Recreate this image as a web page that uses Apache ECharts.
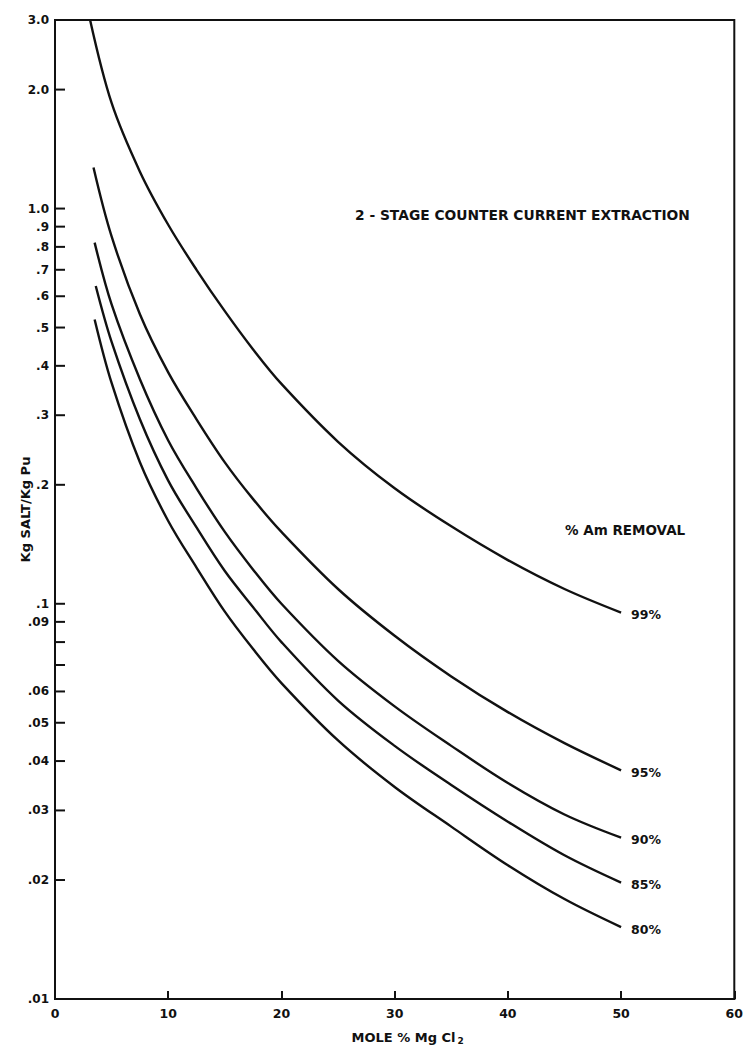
<!DOCTYPE html>
<html>
<head>
<meta charset="utf-8">
<script src="https://cdn.jsdelivr.net/npm/echarts@6/dist/echarts.min.js"></script>
<style>
  html, body { margin: 0; padding: 0; background: #ffffff; }
  #chart { width: 746px; height: 1050px; }
</style>
</head>
<body>
<div id="chart"></div>
<script>
// Kg salt per Kg Pu needed vs. mole % MgCl2, one curve per % Am removal
const seriesNames = ['99%', '95%', '90%', '85%', '80%'];
const curveStartX = [3.1, 3.4, 3.5, 3.6, 3.5];
const curveStartY = [3.0, 1.27, 0.82, 0.637, 0.524];
const moleGrid = [5, 7.5, 10, 12.5, 15, 17.5, 20, 25, 30, 35, 40, 45, 50];
const removal99 = [1.85, 1.24, 0.91, 0.70, 0.55, 0.44, 0.36, 0.257, 0.196, 0.157, 0.129, 0.109, 0.095];
const removal95 = [0.85, 0.54, 0.385, 0.293, 0.228, 0.184, 0.152, 0.109, 0.083, 0.0655, 0.0532, 0.0444, 0.0379];
const removal90 = [0.572, 0.37, 0.259, 0.196, 0.152, 0.122, 0.100, 0.0717, 0.055, 0.0437, 0.0352, 0.0293, 0.0256];
const removal85 = [0.46, 0.293, 0.205, 0.156, 0.121, 0.098, 0.080, 0.0569, 0.0437, 0.0348, 0.0281, 0.0231, 0.0197];
const removal80 = [0.362, 0.228, 0.162, 0.1235, 0.0955, 0.0768, 0.063, 0.0451, 0.0344, 0.0273, 0.0218, 0.0179, 0.0152];

// log-axis ticks (values and their printed labels; blank = tick only)
const yTickValues = [3, 2, 1, 0.9, 0.8, 0.7, 0.6, 0.5, 0.4, 0.3, 0.2, 0.1, 0.09, 0.08, 0.07, 0.06, 0.05, 0.04, 0.03, 0.02, 0.01];
const yTickLabels = ['3.0', '2.0', '1.0', '.9', '.8', '.7', '.6', '.5', '.4', '.3', '.2', '.1', '.09', '', '', '.06', '.05', '.04', '.03', '.02', '.01'];
const xTickLabels = ['0', '10', '20', '30', '40', '50', '60'];

const INK = '#111111';
const FONT = '"DejaVu Sans", "Liberation Sans", sans-serif';

const curveValues = [removal99, removal95, removal90, removal85, removal80];

function buildCurve(i) {
  const pts = [[curveStartX[i], curveStartY[i]]];
  moleGrid.forEach((x, k) => pts.push([x, curveValues[i][k]]));
  return pts;
}

const lineSeries = seriesNames.map((name, i) => ({
  name: name,
  type: 'line',
  data: buildCurve(i),
  showSymbol: false,
  smooth: 0.35,
  lineStyle: { color: INK, width: 2.4 },
  endLabel: {
    show: true,
    formatter: '{a}',
    distance: 10,
    offset: [0, 2],
    color: INK,
    fontFamily: FONT,
    fontWeight: 'bold',
    fontSize: 12.5
  },
  emphasis: { disabled: true },
  z: 3
}));

// tick marks and labels of the logarithmic axis, placed through the axis scale
const yTickSeries = {
  type: 'custom',
  coordinateSystem: 'cartesian2d',
  clip: false,
  silent: true,
  data: yTickValues.map((v, i) => [0, v, i]),
  encode: { x: 0, y: 1 },
  renderItem: function (params, api) {
    const p = api.coord([0, api.value(1)]);
    const label = yTickLabels[api.value(2)];
    const children = [{
      type: 'line',
      shape: { x1: p[0], y1: p[1], x2: p[0] + 10, y2: p[1] },
      style: { stroke: INK, lineWidth: 2 }
    }];
    if (label) {
      children.push({
        type: 'text',
        style: {
          text: label,
          x: p[0] - 6,
          y: p[1],
          align: 'right',
          verticalAlign: 'middle',
          fill: INK,
          font: 'bold 12px ' + FONT
        }
      });
    }
    return { type: 'group', children: children };
  },
  z: 4
};

const chart = echarts.init(document.getElementById('chart'), null, { renderer: 'svg' });

chart.setOption({
  animation: false,
  backgroundColor: '#ffffff',
  grid: {
    left: 55, right: 6, top: 20, bottom: 47,
    show: true,
    borderColor: INK,
    borderWidth: 2,
    backgroundColor: 'transparent'
  },
  xAxis: {
    type: 'value',
    min: 0,
    max: 60,
    interval: 10,
    axisLine: { lineStyle: { color: INK, width: 2 } },
    axisTick: { show: true, inside: true, length: 8, lineStyle: { color: INK, width: 2 } },
    splitLine: { show: false },
    axisLabel: {
      margin: 8,
      color: INK,
      fontFamily: FONT,
      fontWeight: 'bold',
      fontSize: 12.5,
      formatter: function (v) { return xTickLabels[Math.round(v / 10)]; }
    },
    name: 'MOLE % Mg Cl{sub|2}',
    nameLocation: 'middle',
    nameGap: 31,
    nameTextStyle: {
      color: INK,
      fontFamily: FONT,
      fontWeight: 'bold',
      fontSize: 13,
      padding: [0, 0, 0, 26],
      rich: {
        sub: { fontFamily: FONT, fontWeight: 'bold', fontSize: 9, verticalAlign: 'bottom', padding: [6, 0, 0, 2], color: INK }
      }
    }
  },
  yAxis: {
    type: 'log',
    logBase: 10,
    min: 0.01,
    max: 3,
    axisLine: { show: true, lineStyle: { color: INK, width: 2 } },
    axisTick: { show: false },
    axisLabel: { show: false },
    splitLine: { show: false },
    minorTick: { show: false },
    name: 'Kg SALT/Kg Pu',
    nameLocation: 'middle',
    nameGap: 23,
    nameRotate: 90,
    nameTextStyle: {
      color: INK,
      fontFamily: FONT,
      fontWeight: 'bold',
      fontSize: 13
    }
  },
  graphic: [
    {
      type: 'text',
      left: 355,
      top: 208,
      style: {
        text: '2 - STAGE COUNTER CURRENT EXTRACTION',
        fill: INK,
        font: 'bold 13.8px ' + FONT
      }
    },
    {
      type: 'text',
      left: 565,
      top: 523,
      style: {
        text: '% Am REMOVAL',
        fill: INK,
        font: 'bold 13.5px ' + FONT
      }
    }
  ],
  series: lineSeries.concat([yTickSeries])
});
</script>
</body>
</html>
